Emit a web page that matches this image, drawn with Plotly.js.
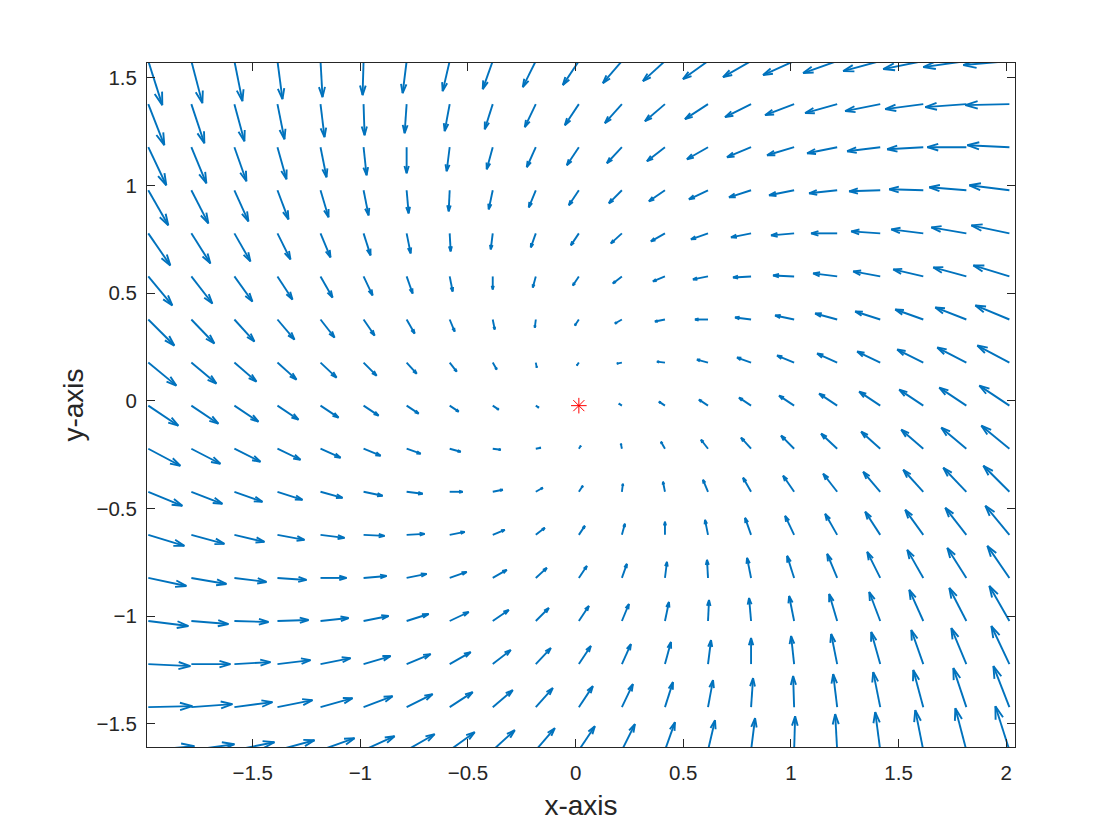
<!DOCTYPE html>
<html>
<head>
<meta charset="utf-8">
<script src="https://cdn.plot.ly/plotly-3.0.1.min.js"></script>
<style>html,body{margin:0;padding:0;background:#fff;}#chart{width:1120px;height:840px;}</style>
</head>
<body>
<div id="chart"></div>
<script>
// Grid of arrow tails
const gridX = [-1.985,-1.785,-1.585,-1.385,-1.185,-0.985,-0.785,-0.585,-0.385,-0.185,0.015,0.215,0.415,0.615,0.815,1.015,1.215,1.415,1.615,1.815,2.015];
const gridY = [-1.623,-1.423,-1.223,-1.023,-0.823,-0.623,-0.423,-0.223,-0.023,0.177,0.377,0.577,0.777,0.977,1.177,1.377,1.577];

// Vector components, one row per gridY value (bottom to top)
const U = [
[4.6,4.3,4.0,3.7,3.4,3.1,2.8,2.5,2.2,1.9,1.6,1.3,1.0,0.7,0.4,0.1,-0.2,-0.5,-0.8,-1.1,-1.4],
[4.4,4.1,3.8,3.5,3.2,2.9,2.6,2.3,2.0,1.7,1.4,1.1,0.8,0.5,0.2,-0.1,-0.4,-0.7,-1.0,-1.3,-1.6],
[4.2,3.9,3.6,3.3,3.0,2.7,2.4,2.1,1.8,1.5,1.2,0.9,0.6,0.3,0,-0.3,-0.6,-0.9,-1.2,-1.5,-1.8],
[4.0,3.7,3.4,3.1,2.8,2.5,2.2,1.9,1.6,1.3,1.0,0.7,0.4,0.1,-0.2,-0.5,-0.8,-1.1,-1.4,-1.7,-2.0],
[3.8,3.5,3.2,2.9,2.6,2.3,2.0,1.7,1.4,1.1,0.8,0.5,0.2,-0.1,-0.4,-0.7,-1.0,-1.3,-1.6,-1.9,-2.2],
[3.6,3.3,3.0,2.7,2.4,2.1,1.8,1.5,1.2,0.9,0.6,0.3,0,-0.3,-0.6,-0.9,-1.2,-1.5,-1.8,-2.1,-2.4],
[3.4,3.1,2.8,2.5,2.2,1.9,1.6,1.3,1.0,0.7,0.4,0.1,-0.2,-0.5,-0.8,-1.1,-1.4,-1.7,-2.0,-2.3,-2.6],
[3.2,2.9,2.6,2.3,2.0,1.7,1.4,1.1,0.8,0.5,0.2,-0.1,-0.4,-0.7,-1.0,-1.3,-1.6,-1.9,-2.2,-2.5,-2.8],
[3.0,2.7,2.4,2.1,1.8,1.5,1.2,0.9,0.6,0.3,0,-0.3,-0.6,-0.9,-1.2,-1.5,-1.8,-2.1,-2.4,-2.7,-3.0],
[2.8,2.5,2.2,1.9,1.6,1.3,1.0,0.7,0.4,0.1,-0.2,-0.5,-0.8,-1.1,-1.4,-1.7,-2.0,-2.3,-2.6,-2.9,-3.2],
[2.6,2.3,2.0,1.7,1.4,1.1,0.8,0.5,0.2,-0.1,-0.4,-0.7,-1.0,-1.3,-1.6,-1.9,-2.2,-2.5,-2.8,-3.1,-3.4],
[2.4,2.1,1.8,1.5,1.2,0.9,0.6,0.3,0,-0.3,-0.6,-0.9,-1.2,-1.5,-1.8,-2.1,-2.4,-2.7,-3.0,-3.3,-3.6],
[2.2,1.9,1.6,1.3,1.0,0.7,0.4,0.1,-0.2,-0.5,-0.8,-1.1,-1.4,-1.7,-2.0,-2.3,-2.6,-2.9,-3.2,-3.5,-3.8],
[2.0,1.7,1.4,1.1,0.8,0.5,0.2,-0.1,-0.4,-0.7,-1.0,-1.3,-1.6,-1.9,-2.2,-2.5,-2.8,-3.1,-3.4,-3.7,-4.0],
[1.8,1.5,1.2,0.9,0.6,0.3,0,-0.3,-0.6,-0.9,-1.2,-1.5,-1.8,-2.1,-2.4,-2.7,-3.0,-3.3,-3.6,-3.9,-4.2],
[1.6,1.3,1.0,0.7,0.4,0.1,-0.2,-0.5,-0.8,-1.1,-1.4,-1.7,-2.0,-2.3,-2.6,-2.9,-3.2,-3.5,-3.8,-4.1,-4.4],
[1.4,1.1,0.8,0.5,0.2,-0.1,-0.4,-0.7,-1.0,-1.3,-1.6,-1.9,-2.2,-2.5,-2.8,-3.1,-3.4,-3.7,-4.0,-4.3,-4.6]
];
const V = [
[0.4,0.6,0.8,1.0,1.2,1.4,1.6,1.8,2.0,2.2,2.4,2.6,2.8,3.0,3.2,3.4,3.6,3.8,4.0,4.2,4.4],
[0.1,0.3,0.5,0.7,0.9,1.1,1.3,1.5,1.7,1.9,2.1,2.3,2.5,2.7,2.9,3.1,3.3,3.5,3.7,3.9,4.1],
[-0.2,0,0.2,0.4,0.6,0.8,1.0,1.2,1.4,1.6,1.8,2.0,2.2,2.4,2.6,2.8,3.0,3.2,3.4,3.6,3.8],
[-0.5,-0.3,-0.1,0.1,0.3,0.5,0.7,0.9,1.1,1.3,1.5,1.7,1.9,2.1,2.3,2.5,2.7,2.9,3.1,3.3,3.5],
[-0.8,-0.6,-0.4,-0.2,0,0.2,0.4,0.6,0.8,1.0,1.2,1.4,1.6,1.8,2.0,2.2,2.4,2.6,2.8,3.0,3.2],
[-1.1,-0.9,-0.7,-0.5,-0.3,-0.1,0.1,0.3,0.5,0.7,0.9,1.1,1.3,1.5,1.7,1.9,2.1,2.3,2.5,2.7,2.9],
[-1.4,-1.2,-1.0,-0.8,-0.6,-0.4,-0.2,0,0.2,0.4,0.6,0.8,1.0,1.2,1.4,1.6,1.8,2.0,2.2,2.4,2.6],
[-1.7,-1.5,-1.3,-1.1,-0.9,-0.7,-0.5,-0.3,-0.1,0.1,0.3,0.5,0.7,0.9,1.1,1.3,1.5,1.7,1.9,2.1,2.3],
[-2.0,-1.8,-1.6,-1.4,-1.2,-1.0,-0.8,-0.6,-0.4,-0.2,0,0.2,0.4,0.6,0.8,1.0,1.2,1.4,1.6,1.8,2.0],
[-2.3,-2.1,-1.9,-1.7,-1.5,-1.3,-1.1,-0.9,-0.7,-0.5,-0.3,-0.1,0.1,0.3,0.5,0.7,0.9,1.1,1.3,1.5,1.7],
[-2.6,-2.4,-2.2,-2.0,-1.8,-1.6,-1.4,-1.2,-1.0,-0.8,-0.6,-0.4,-0.2,0,0.2,0.4,0.6,0.8,1.0,1.2,1.4],
[-2.9,-2.7,-2.5,-2.3,-2.1,-1.9,-1.7,-1.5,-1.3,-1.1,-0.9,-0.7,-0.5,-0.3,-0.1,0.1,0.3,0.5,0.7,0.9,1.1],
[-3.2,-3.0,-2.8,-2.6,-2.4,-2.2,-2.0,-1.8,-1.6,-1.4,-1.2,-1.0,-0.8,-0.6,-0.4,-0.2,0,0.2,0.4,0.6,0.8],
[-3.5,-3.3,-3.1,-2.9,-2.7,-2.5,-2.3,-2.1,-1.9,-1.7,-1.5,-1.3,-1.1,-0.9,-0.7,-0.5,-0.3,-0.1,0.1,0.3,0.5],
[-3.8,-3.6,-3.4,-3.2,-3.0,-2.8,-2.6,-2.4,-2.2,-2.0,-1.8,-1.6,-1.4,-1.2,-1.0,-0.8,-0.6,-0.4,-0.2,0,0.2],
[-4.1,-3.9,-3.7,-3.5,-3.3,-3.1,-2.9,-2.7,-2.5,-2.3,-2.1,-1.9,-1.7,-1.5,-1.3,-1.1,-0.9,-0.7,-0.5,-0.3,-0.1],
[-4.4,-4.2,-4.0,-3.8,-3.6,-3.4,-3.2,-3.0,-2.8,-2.6,-2.4,-2.2,-2.0,-1.8,-1.6,-1.4,-1.2,-1.0,-0.8,-0.6,-0.4]
];

// Equilibrium point
const eqX = [0.015];
const eqY = [-0.023];

// Tick labels
const xTickVals = [-1.5,-1,-0.5,0,0.5,1,1.5,2];
const xTickText = ["\u22121.5","\u22121","\u22120.5","0","0.5","1","1.5","2"];
const yTickVals = [-1.5,-1,-0.5,0,0.5,1,1.5];
const yTickText = ["\u22121.5","\u22121","\u22120.5","0","0.5","1","1.5"];

// Quiver drawing (autoscale factor, head geometry)
const scale = 0.0465;
const headA = 0.28, headB = 0.3;
const qx = [], qy = [];
for (let r = 0; r < gridY.length; r++) {
  for (let c = 0; c < gridX.length; c++) {
    const x0 = gridX[c], y0 = gridY[r];
    const du = U[r][c] * scale, dv = V[r][c] * scale;
    if (du === 0 && dv === 0) continue;
    const x1 = x0 + du, y1 = y0 + dv;
    qx.push(x0, x1, null);
    qy.push(y0, y1, null);
    qx.push(x1 - headA * (du + headB * dv), x1, x1 - headA * (du - headB * dv), null);
    qy.push(y1 - headA * (dv - headB * du), y1, y1 - headA * (dv + headB * du), null);
  }
}

const traces = [
  {type: 'scatter', mode: 'lines', x: qx, y: qy,
   line: {color: '#0072BD', width: 1.9}, hoverinfo: 'skip', showlegend: false},
  {type: 'scatter', mode: 'markers', x: eqX, y: eqY,
   marker: {symbol: 'asterisk-open', size: 13, color: '#FF0000', line: {color: '#FF0000', width: 1}},
   showlegend: false}
];

const fontFam = 'Liberation Sans, Arial, Helvetica, sans-serif';
const axisCommon = {
  showgrid: false, zeroline: false, showline: true, mirror: 'ticks',
  linecolor: '#262626', linewidth: 1, ticks: 'inside', ticklen: 8, tickwidth: 1,
  tickcolor: '#262626',
  tickfont: {family: fontFam, size: 20.5, color: '#262626'}
};

const layout = {
  width: 1120, height: 840,
  margin: {l: 147, r: 105, t: 63, b: 93},
  paper_bgcolor: '#ffffff', plot_bgcolor: '#ffffff',
  showlegend: false,
  xaxis: Object.assign({}, axisCommon, {
    range: [-1.991, 2.041], tickmode: 'array', tickvals: xTickVals, ticktext: xTickText,
    ticklabelstandoff: 7,
    title: {text: 'x-axis', standoff: 12, font: {family: fontFam, size: 28, color: '#262626'}}
  }),
  yaxis: Object.assign({}, axisCommon, {
    range: [-1.608, 1.568], tickmode: 'array', tickvals: yTickVals, ticktext: yTickText,
    ticklabelstandoff: 5,
    title: {text: 'y-axis', standoff: 4, font: {family: fontFam, size: 28, color: '#262626'}}
  })
};

Plotly.newPlot('chart', traces, layout, {displayModeBar: false, staticPlot: true});
</script>
</body>
</html>
